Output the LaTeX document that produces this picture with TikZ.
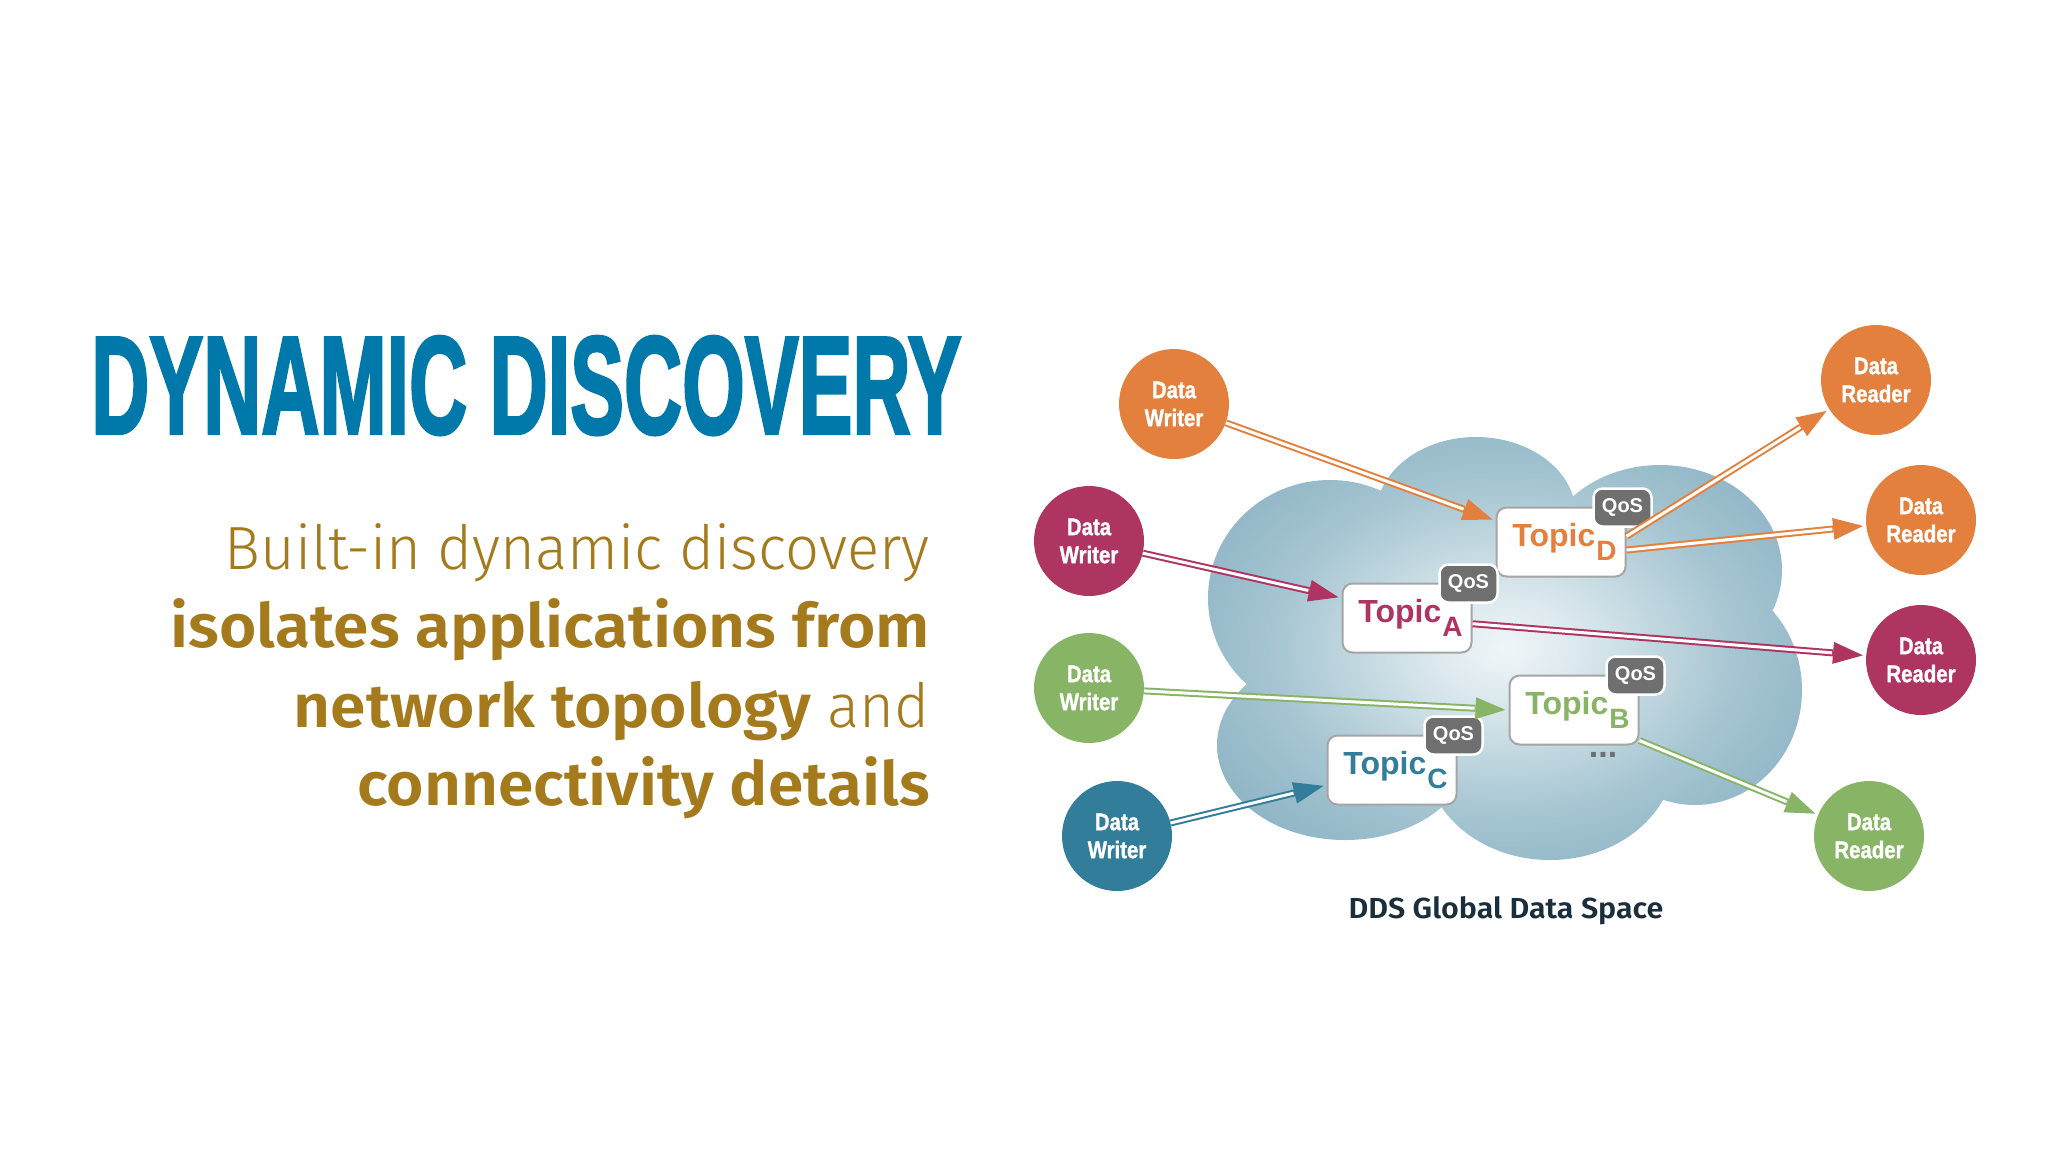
\documentclass[tikz,border=0pt]{standalone}
\usepackage{fontspec}
\usepackage{graphicx}
\usepackage{tikz}
\usetikzlibrary{arrows.meta}
\usetikzlibrary{positioning}
\setmainfont{Liberation Sans}
\newfontfamily\titlefont{Liberation Sans}[FakeBold=2.5]
\newfontfamily\condfont{Liberation Sans}[FakeStretch=0.85, FakeBold=1.2]
\newfontfamily\subfont{Fira Sans}[UprightFont=* Light, BoldFont=* SemiBold,
	UprightFeatures={FakeStretch=0.98}, BoldFeatures={FakeStretch=1.05}]
\definecolor{titleblue}{HTML}{0079AA}
\definecolor{subgold}{HTML}{A47A1C}
\definecolor{dsorange}{HTML}{E3803E}
\definecolor{dsmagenta}{HTML}{AE3461}
\definecolor{dsgreen}{HTML}{88B466}
\definecolor{dsteal}{HTML}{327D9A}
\definecolor{qosgray}{HTML}{6F6F6F}
\definecolor{boxgray}{HTML}{A5A5A5}
\definecolor{spacenavy}{HTML}{1B2E3C}
\definecolor{cloudA}{HTML}{F0F6F8}
\definecolor{cloudB}{HTML}{DCE9EE}
\definecolor{cloudC}{HTML}{A4C4D1}
\definecolor{cloudD}{HTML}{7AA6B9}
\definecolor{cloudE}{HTML}{5F93AA}
\pgfdeclareradialshading{cloudshade}{\pgfpoint{0bp}{0bp}}{color(0bp)=(cloudA); color(6bp)=(cloudB); color(20bp)=(cloudC); color(38bp)=(cloudD); color(50bp)=(cloudE)}
\def\tsub#1{\kern1pt{\fontsize{28}{28}\selectfont\raisebox{-14pt}{#1}}}% subscript letter of a topic
\tikzset{
	agent/.style={circle, fill=#1, minimum size=110pt, inner sep=0pt, text=white, align=center,
		font=\condfont\bfseries\fontsize{24}{28}\selectfont},
	topic/.style={draw=boxgray, line width=2pt, fill=white, rounded corners=10pt, minimum width=129pt,
		minimum height=69pt, inner sep=0pt, text=#1, font=\bfseries\fontsize{32}{32}\selectfont,
		execute at begin node=\kern7pt},
	qos/.style={draw=white, line width=2.5pt, fill=qosgray, rounded corners=9pt, minimum width=58pt,
		minimum height=38pt, inner sep=0pt, text=white, font=\bfseries\fontsize{20}{20}\selectfont},
	link/.style={draw=#1, line width=7pt, shorten >=3pt, -{Triangle[length=30pt, width=22pt, line width=0pt]},
		postaction={draw=white, line width=3pt, shorten >=34pt, -}},
	subline/.style={anchor=base east, inner sep=0pt, text=subgold, font=\subfont\fontsize{61}{70}\selectfont},
}
\begin{document}
\begin{tikzpicture}[x=1pt, y=-1pt]
	\useasboundingbox (0,0) rectangle (2048,1152);
	% global data space
	\shade[shading=cloudshade] (1476,515) ellipse [x radius=100, y radius=78]
		(1330,598) ellipse [x radius=122, y radius=118]
		(1660,570) ellipse [x radius=122, y radius=105]
		(1695,690) ellipse [x radius=107, y radius=115]
		(1550,755) ellipse [x radius=125, y radius=105]
		(1345,745) ellipse [x radius=128, y radius=95]
		(1500,660) ellipse [x radius=210, y radius=150];
	\node[anchor=base, inner sep=0pt, text=spacenavy, font=\subfont\bfseries\fontsize{29}{29}\selectfont] (space) at (1506,918) {DDS Global Data Space};
	% writers and readers
	\node[agent=dsorange] (wd) at (1174,404) {Data\\Writer};
	\node[agent=dsmagenta] (wa) at (1089,541) {Data\\Writer};
	\node[agent=dsgreen] (wb) at (1089,688) {Data\\Writer};
	\node[agent=dsteal] (wc) at (1117,836) {Data\\Writer};
	\node[agent=dsorange] (rd1) at (1876,380) {Data\\Reader};
	\node[agent=dsorange] (rd2) at (1921,520) {Data\\Reader};
	\node[agent=dsmagenta] (ra) at (1921,660) {Data\\Reader};
	\node[agent=dsgreen] (rb) at (1869,836) {Data\\Reader};
	% topics
	\node[topic=dsorange] (td) at (1561,542) {Topic\tsub{D}};
	\node[topic=dsmagenta] (ta) at (1407,618) {Topic\tsub{A}};
	\node[topic=dsgreen] (tb) at (1574,710) {Topic\tsub{B}};
	\node[topic=dsteal] (tc) at (1392,770) {Topic\tsub{C}};
	\node[qos] (qd) at ([xshift=-4pt,yshift=-1pt]td.north east) {QoS};
	\node[qos] (qa) at ([xshift=-4pt,yshift=-1pt]ta.north east) {QoS};
	\node[qos] (qb) at ([xshift=-4pt,yshift=-1pt]tb.north east) {QoS};
	\node[qos] (qc) at ([xshift=-4pt,yshift=-1pt]tc.north east) {QoS};
	\node[anchor=base, inner sep=0pt, text=qosgray, font=\bfseries\fontsize{34}{34}\selectfont] (more) at (1603,757) {...};
	% links
	\draw[link=dsorange] (wd) -- (td.162);
	\draw[link=dsorange] (td.5) -- (rd1);
	\draw[link=dsorange] (td.-7) -- (rd2);
	\draw[link=dsmagenta] (wa) -- (ta.163);
	\draw[link=dsmagenta] (ta.-5) -- (ra);
	\draw[link=dsgreen] (wb) -- (tb.west);
	\draw[link=dsgreen] (tb.-25) -- (rb);
	\draw[link=dsteal] (wc) -- (tc.193);
	% heading
	\node[anchor=south west, inner sep=0pt, text=titleblue] (title) at (91,435) {\resizebox{870pt}{97pt}{\titlefont\bfseries DYNAMIC DISCOVERY}};
	\node[subline] (line1) at (930,569) {Built-in dynamic discovery};
	\node[subline] (line2) at ([yshift=-78pt]line1.base east) {\textbf{isolates applications from}};
	\node[subline] (line3) at ([yshift=-80pt]line2.base east) {\textbf{network topology} and};
	\node[subline] (line4) at ([yshift=-78pt]line3.base east) {\textbf{connectivity details}};
\end{tikzpicture}
\end{document}
